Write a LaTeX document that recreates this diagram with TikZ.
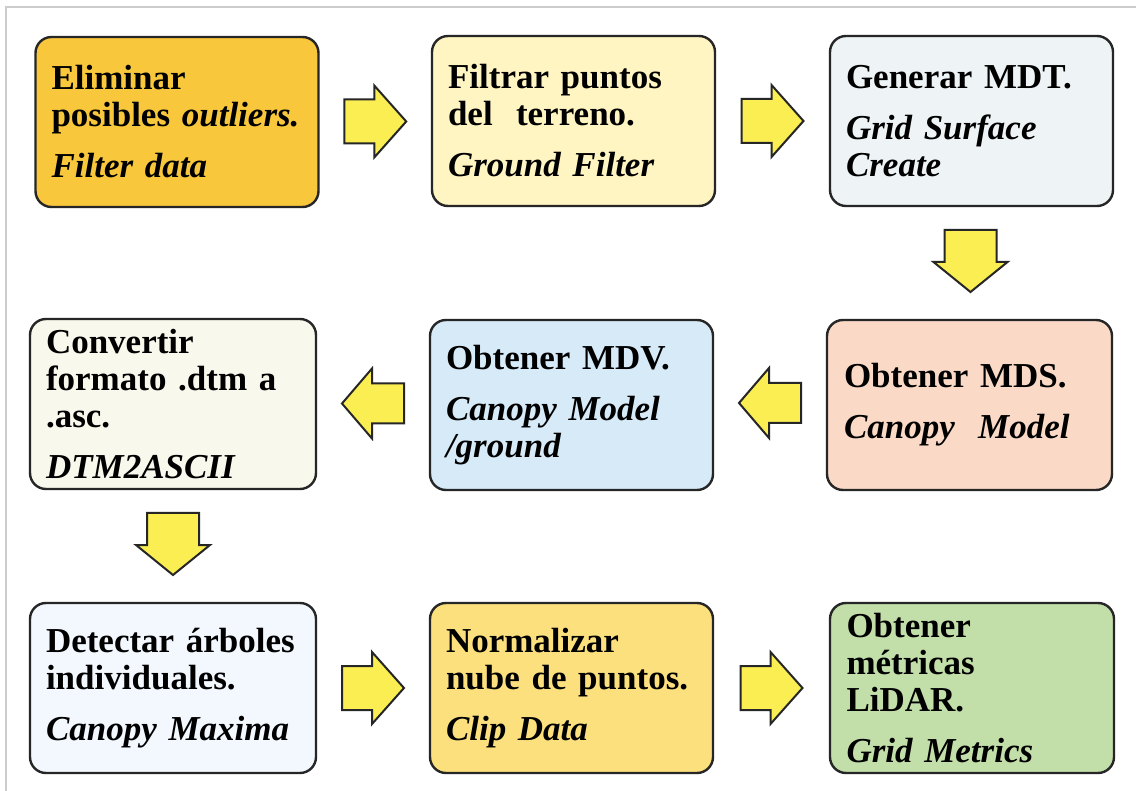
\documentclass[tikz,border=0pt]{standalone}
\usepackage{fontspec}
\setmainfont{Liberation Serif}
\usetikzlibrary{calc}
\definecolor{cA}{HTML}{F9C73C}
\definecolor{cB}{HTML}{FFF5C2}
\definecolor{cC}{HTML}{EEF3F5}
\definecolor{cD}{HTML}{F8F8EC}
\definecolor{cE}{HTML}{D6EAF8}
\definecolor{cF}{HTML}{FADAC7}
\definecolor{cG}{HTML}{F2F8FE}
\definecolor{cH}{HTML}{FCE07E}
\definecolor{cI}{HTML}{C3DFA9}
\definecolor{arrowyellow}{HTML}{FAEE52}
\definecolor{framegray}{HTML}{CCCCCC}
\tikzset{
  procbox/.style={draw=black!85, line width=2.4pt, rounded corners=16pt,
    minimum width=283pt, minimum height=170pt, text width=251pt,
    inner xsep=16pt, align=left, font=\fontsize{35}{37}\selectfont\bfseries},
  arrowfill/.style={draw=black!85, line width=2pt, fill=arrowyellow, line join=miter},
  pics/barrow/.style n args={3}{code={
    \draw[arrowfill] (-31,-#1) -- (31-#3,-#1) -- (31-#3,-#2) -- (31,0)
      -- (31-#3,#2) -- (31-#3,#1) -- (-31,#1) -- cycle;
  }}
}
\newcommand{\gapline}{\\[14pt]}
\begin{document}
\begin{tikzpicture}[x=1pt,y=-1pt]
\useasboundingbox (0,0) rectangle (1136,791);
\fill[white] (0,0) rectangle (1136,791);
\draw[framegray, line width=1.5pt] (1136,7) -- (6,7) -- (6,791);

\node[procbox, fill=cA] (b1) at (177,122) {Eliminar\\posibles \textit{outliers.}\gapline\textit{Filter data}};
\node[procbox, fill=cB] (b2) at (573.5,121) {Filtrar puntos\\del\ \ terreno.\gapline\textit{Ground Filter}};
\node[procbox, fill=cC] (b3) at (971.5,121) {Generar MDT.\gapline\textit{Grid Surface}\\\textit{Create}};
\node[procbox, fill=cD, minimum width=286pt, text width=254pt] (b4) at (173,404) {Convertir\\formato .dtm a\\.asc.\gapline\textit{DTM2ASCII}};
\node[procbox, fill=cE] (b5) at (571.5,405) {Obtener MDV.\gapline\textit{Canopy Model}\\\textit{/ground}};
\node[procbox, fill=cF, minimum width=285pt] (b6) at (969.5,405) {Obtener MDS.\gapline\textit{Canopy\ \ Model}};
\node[procbox, fill=cG, minimum width=286pt, text width=254pt] (b7) at (173,688) {Detectar árboles\\individuales.\gapline\textit{Canopy Maxima}};
\node[procbox, fill=cH] (b8) at (571.5,688) {Normalizar\\nube de puntos.\gapline\textit{Clip Data}};
\node[procbox, fill=cI, minimum width=284pt] (b9) at (972,688) {Obtener\\métricas\\LiDAR.\gapline\textit{Grid Metrics}};

\pic at ($(b1.east)!0.5!(b2.west)$) {barrow={22}{36}{32}};
\pic at ($(b2.east)!0.5!(b3.west)$) {barrow={22}{36}{32}};
\pic[rotate=-90] at ($(b3.south)!0.5!(b6.north)+(0,-2)$) {barrow={26}{37}{30}};
\pic[rotate=180] at ($(b6.west)!0.5!(b5.east)+(0,-2)$) {barrow={20}{35}{30}};
\pic[rotate=180] at ($(b5.west)!0.5!(b4.east)+(0,-1)$) {barrow={20}{35}{30}};
\pic[rotate=-90] at ($(b4.south)!0.5!(b7.north)+(0,-2)$) {barrow={26}{37}{30}};
\pic at ($(b7.east)!0.5!(b8.west)$) {barrow={22}{36}{32}};
\pic at ($(b8.east)!0.5!(b9.west)$) {barrow={22}{36}{32}};
\end{tikzpicture}
\end{document}
